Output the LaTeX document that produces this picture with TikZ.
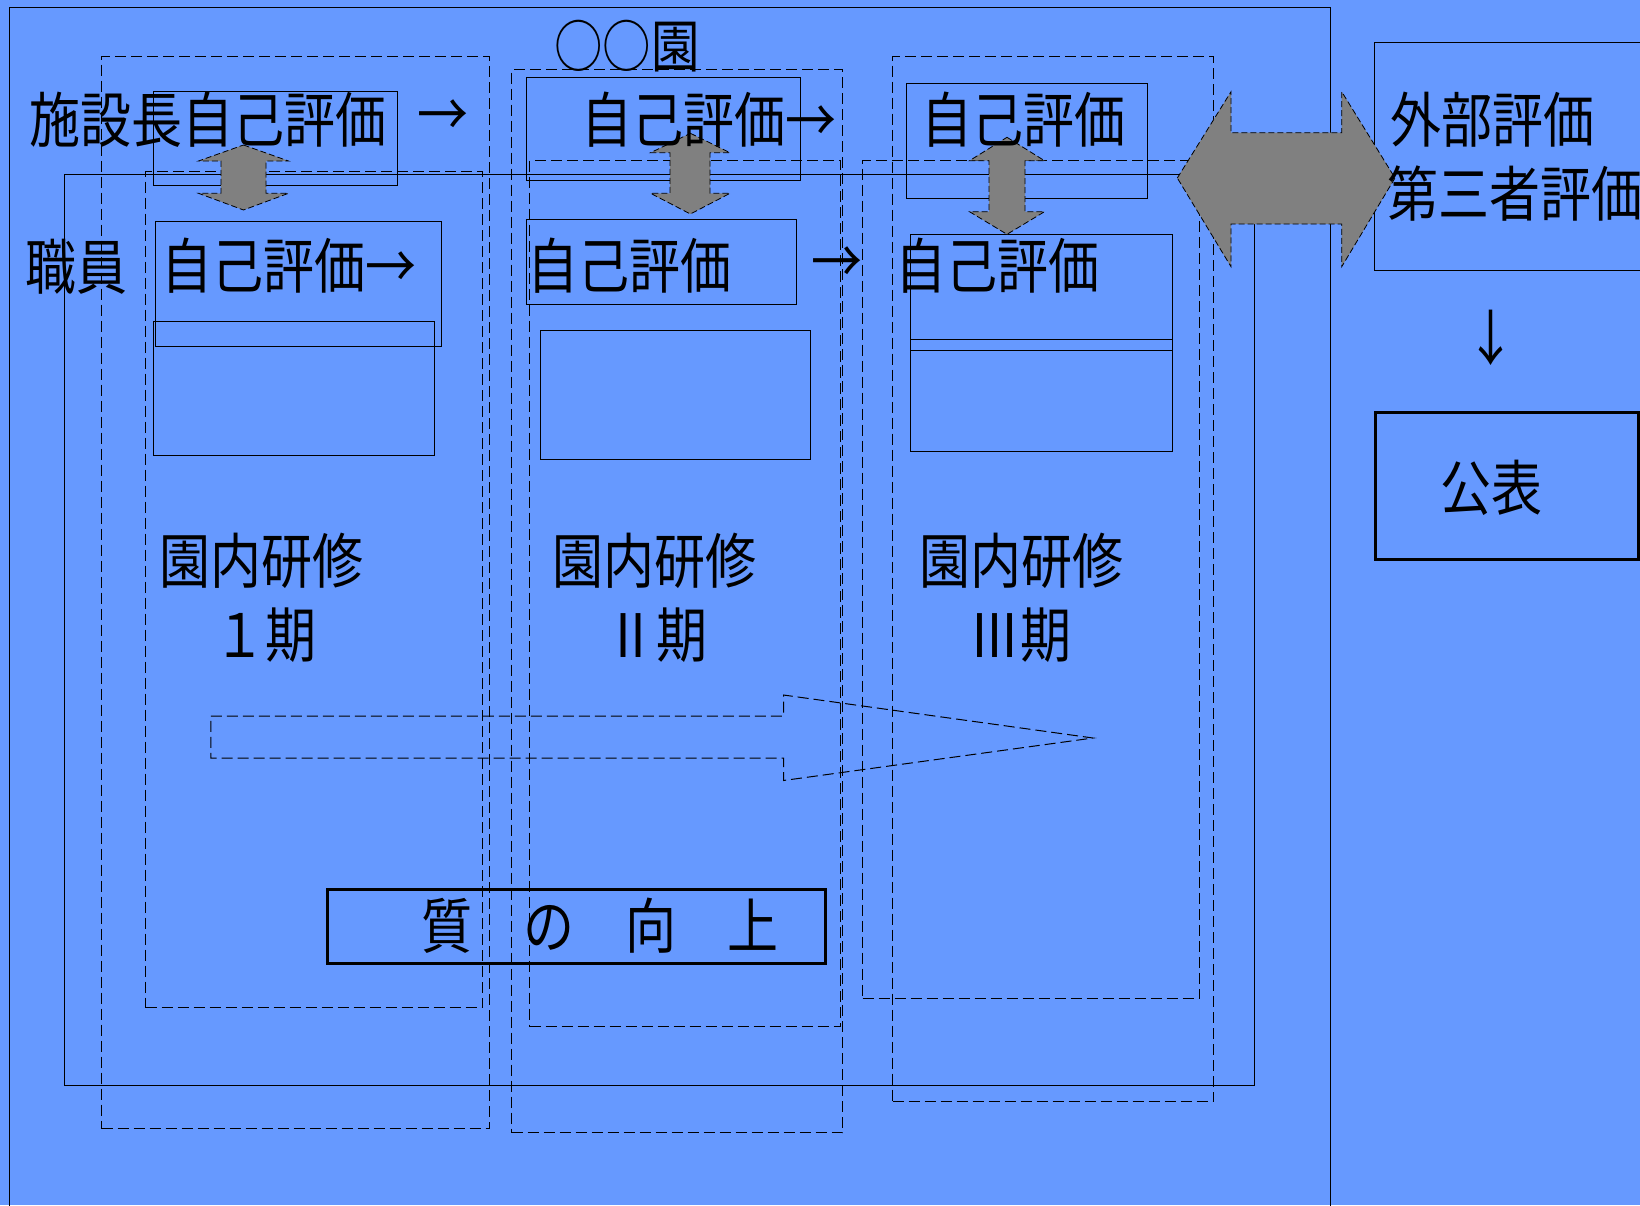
\documentclass[tikz,border=0pt]{standalone}
\usepackage{fontspec}
\newfontfamily\jp[FakeStretch=0.85]{Noto Sans CJK JP}
\definecolor{bgblue}{HTML}{6699FF}
\definecolor{arrowgray}{HTML}{808080}
\newcommand{\jpbig}{\jp\fontsize{60}{66}\selectfont}
\newcommand{\jpmid}{\jp\fontsize{57}{62}\selectfont}
\begin{document}
\begin{tikzpicture}[x=1pt,y=-1pt,
  lbl/.style={font=\jpbig, inner sep=0pt, text=black},
  solidbox/.style={draw=black, line width=1pt, anchor=north west, inner sep=0pt},
  thickbox/.style={draw=black, line width=3pt, anchor=north west, inner sep=0pt},
  dashbox/.style={draw=black, line width=1pt, dash pattern=on 11pt off 5pt, anchor=north west, inner sep=0pt},
  grayarrow/.style={fill=arrowgray, draw=black, line width=0.8pt, dash pattern=on 6pt off 3pt},
  blockarrow/.style={draw=black, line width=1pt, dash pattern=on 11pt off 5pt}]
\useasboundingbox (0,0) rectangle (1640,1205);
\clip (0,0) rectangle (1640,1205);
\fill[bgblue] (0,0) rectangle (1640,1205);

% frames
\node[solidbox, minimum width=1320.6pt, minimum height=1220pt] (frame) at (9.4,7.3) {};
\node[solidbox, minimum width=1190pt, minimum height=911pt] (big) at (64,174) {};

% dashed column boxes
\node[dashbox, minimum width=388pt, minimum height=1072pt] (d1o) at (101,56) {};
\node[dashbox, minimum width=337pt, minimum height=836pt] (d1i) at (145,171) {};
\node[dashbox, minimum width=331pt, minimum height=1063pt] (d2o) at (511,69) {};
\node[dashbox, minimum width=311pt, minimum height=866pt] (d2i) at (529,160) {};
\node[dashbox, minimum width=321pt, minimum height=1045pt] (d3o) at (892,56) {};
\node[dashbox, minimum width=337pt, minimum height=838pt] (d3i) at (862,160) {};

% solid boxes
\node[solidbox, minimum width=244pt, minimum height=94pt] (c1top) at (153,91) {};
\node[solidbox, minimum width=286pt, minimum height=125pt] (c1staff) at (155,221) {};
\node[solidbox, minimum width=281pt, minimum height=134pt] (c1low) at (153,321) {};
\node[solidbox, minimum width=274pt, minimum height=103pt] (c2top) at (526,77) {};
\node[solidbox, minimum width=270pt, minimum height=85pt] (c2staff) at (526,219) {};
\node[solidbox, minimum width=270pt, minimum height=129pt] (c2low) at (540,330) {};
\node[solidbox, minimum width=241pt, minimum height=115pt] (c3top) at (906,83) {};
\node[solidbox, minimum width=262pt, minimum height=116pt] (c3staff) at (910,234) {};
\node[solidbox, minimum width=262pt, minimum height=112pt] (c3low) at (910,339) {};
\node[solidbox, minimum width=300pt, minimum height=228pt] (ext) at (1374,42) {};
\node[thickbox, minimum width=263pt, minimum height=147pt] (pub) at (1374,411) {};
\node[thickbox, minimum width=498pt, minimum height=74pt] (qual) at (326,888) {};

% dashed block arrow
\draw[blockarrow] (210.8,716) -- (783.5,716) -- (783.5,695) -- (1093,738) -- (783.5,780.5) -- (783.5,758) -- (210.8,758) -- cycle;

% gray double arrows
\draw[grayarrow] (243.5,145) -- (288.5,161) -- (266,161) -- (266,193.3) -- (288.5,193.3) -- (243.5,210) -- (198.5,193.3) -- (221,193.3) -- (221,161) -- (198.5,161) -- cycle;
\draw[grayarrow] (690.4,133.3) -- (730,152.7) -- (710,152.7) -- (710,193.3) -- (730,193.3) -- (690.4,214) -- (650.6,193.3) -- (670,193.3) -- (670,152.7) -- (650.6,152.7) -- cycle;
\draw[grayarrow] (1007,137.3) -- (1044.5,160.7) -- (1025,160.7) -- (1025,211.7) -- (1044.5,211.7) -- (1007,234.3) -- (969.5,211.7) -- (989,211.7) -- (989,160.7) -- (969.5,160.7) -- cycle;
\draw[grayarrow] (1177.3,178) -- (1231,91.7) -- (1231,132.7) -- (1341.7,132.7) -- (1341.7,91.7) -- (1395,178) -- (1341.7,266.7) -- (1341.7,224) -- (1231,224) -- (1231,266.7) -- cycle;

% texts
\node[lbl, font=\jpmid] (garden) at (627,46) {○○園};
\node[lbl] (headtxt) at (208,120) {施設長自己評価};
\node[lbl] (headarr) at (443,118) {→};
\node[lbl] (staff) at (76,267) {職員};
\node[lbl] (c1s) at (289,266) {自己評価→};
\node[lbl] (c2t) at (708.5,120) {自己評価→};
\node[lbl] (c2s) at (629,266) {自己評価};
\node[lbl] (c2arr) at (837,265) {→};
\node[lbl] (c3t) at (1023.5,120) {自己評価};
\node[lbl] (c3s) at (997,266) {自己評価};
\node[lbl] (ext1) at (1492,120) {外部評価};
\node[lbl, anchor=west] (ext2) at (1387,194) {第三者評価};
\node[lbl] (down) at (1491,338) {↓};
\node[lbl] (pubtxt) at (1491,488) {公表};
\node[lbl] (k1) at (261,561) {園内研修};
\node[lbl] (p1) at (265,635) {１期};
\node[lbl] (k2) at (654.5,561) {園内研修};
\node[lbl] (p2) at (656,635) {Ⅱ期};
\node[lbl] (k3) at (1021,561) {園内研修};
\node[lbl] (p3) at (1020,635) {Ⅲ期};
\node[lbl] (qtxt) at (600,926) {質　の　向　上};
\end{tikzpicture}
\end{document}
